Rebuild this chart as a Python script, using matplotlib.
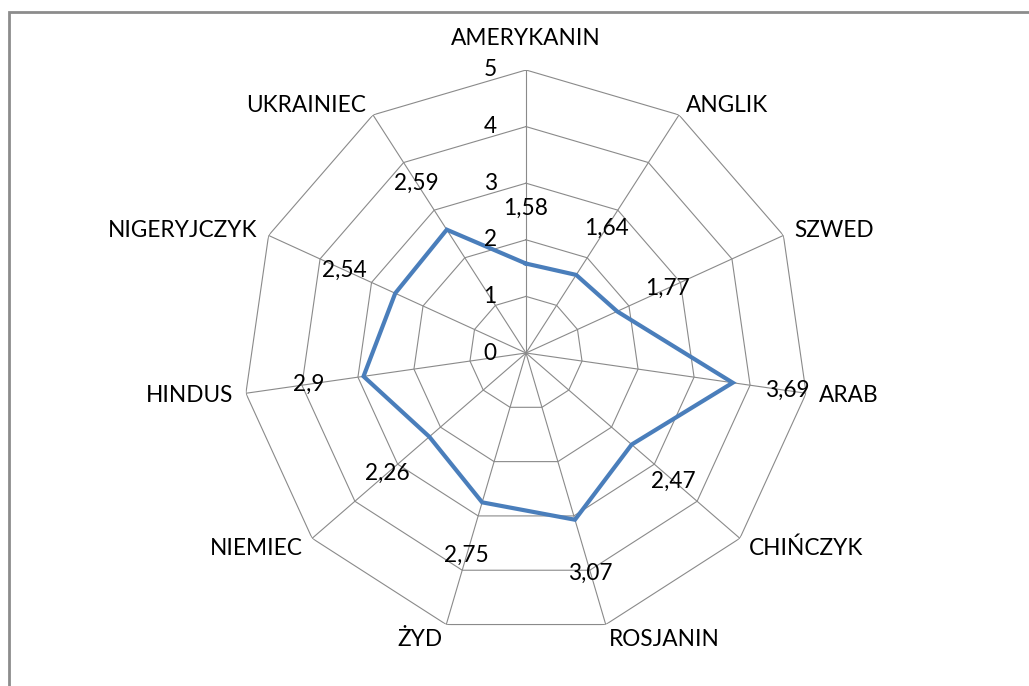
import numpy as np
import matplotlib
matplotlib.use("Agg")
import matplotlib.pyplot as plt
from matplotlib.patches import Rectangle

categories = ["AMERYKANIN", "ANGLIK", "SZWED", "ARAB", "CHIŃCZYK", "ROSJANIN",
              "ŻYD", "NIEMIEC", "HINDUS", "NIGERYJCZYK", "UKRAINIEC"]
values = [1.58, 1.64, 1.77, 3.69, 2.47, 3.07, 2.75, 2.26, 2.9, 2.54, 2.59]
levels = [0, 1, 2, 3, 4, 5]

plt.rcParams['font.family'] = ['Lato', 'DejaVu Sans']
FS = 16.3
GRID = '#8a8a8a'
LINE = '#4A7EBB'

fig = plt.figure(figsize=(10.29, 6.86), dpi=100)
ax = fig.add_axes([243/1029, 50/686, 566/1029, 566/686], projection='polar')
ax.set_theta_zero_location('N')
ax.set_theta_direction(-1)
ax.set_ylim(0, levels[-1])
ax.grid(False)
ax.spines['polar'].set_visible(False)
ax.set_xticks([])
ax.set_yticks([])
ax.patch.set_alpha(0)

n = len(categories)
angles = np.arange(n) * 2 * np.pi / n
closed = np.append(angles, angles[0])

for lv in levels[1:]:
    ax.plot(closed, [lv] * (n + 1), color=GRID, lw=0.8, zorder=1)
for a in angles:
    ax.plot([a, a], [0, levels[-1]], color=GRID, lw=0.8, zorder=1)

ax.plot(closed, values + values[:1], color=LINE, lw=3.0, zorder=3, solid_joinstyle='miter')

# radial tick labels
for lv in levels:
    ax.annotate(str(lv), xy=(0, lv), xytext=(-21, 0), textcoords='offset points',
                ha='right', va='center', fontsize=FS, color='#000000')

# data labels
for a, v in zip(angles, values):
    s = ("%g" % v).replace('.', ',')
    dx, dy = 40 * np.sin(a), 40 * np.cos(a)
    ax.annotate(s, xy=(a, v), xytext=(dx, dy), textcoords='offset points',
                ha='center', va='center', fontsize=FS, color='#000000')

# category labels
for a, c in zip(angles, categories):
    sn, cs = np.sin(a), np.cos(a)
    if abs(sn) < 0.1:
        ax.annotate(c, xy=(a, levels[-1]), xytext=(0, 15), textcoords='offset points',
                    ha='center', va='bottom', fontsize=FS)
    else:
        ha = 'left' if sn > 0 else 'right'
        dy = 8 * cs if cs > 0 else 11 * cs
        ax.annotate(c, xy=(a, levels[-1]), xytext=(9 * sn, dy), textcoords='offset points',
                    ha=ha, va='center', fontsize=FS)

fig.add_artist(Rectangle((9/1029, -0.2), 1.2, 1.2 - 12/686, transform=fig.transFigure,
                         fill=False, edgecolor='#8c8c8c', lw=2.0))

fig.savefig("out.png", dpi=100)
